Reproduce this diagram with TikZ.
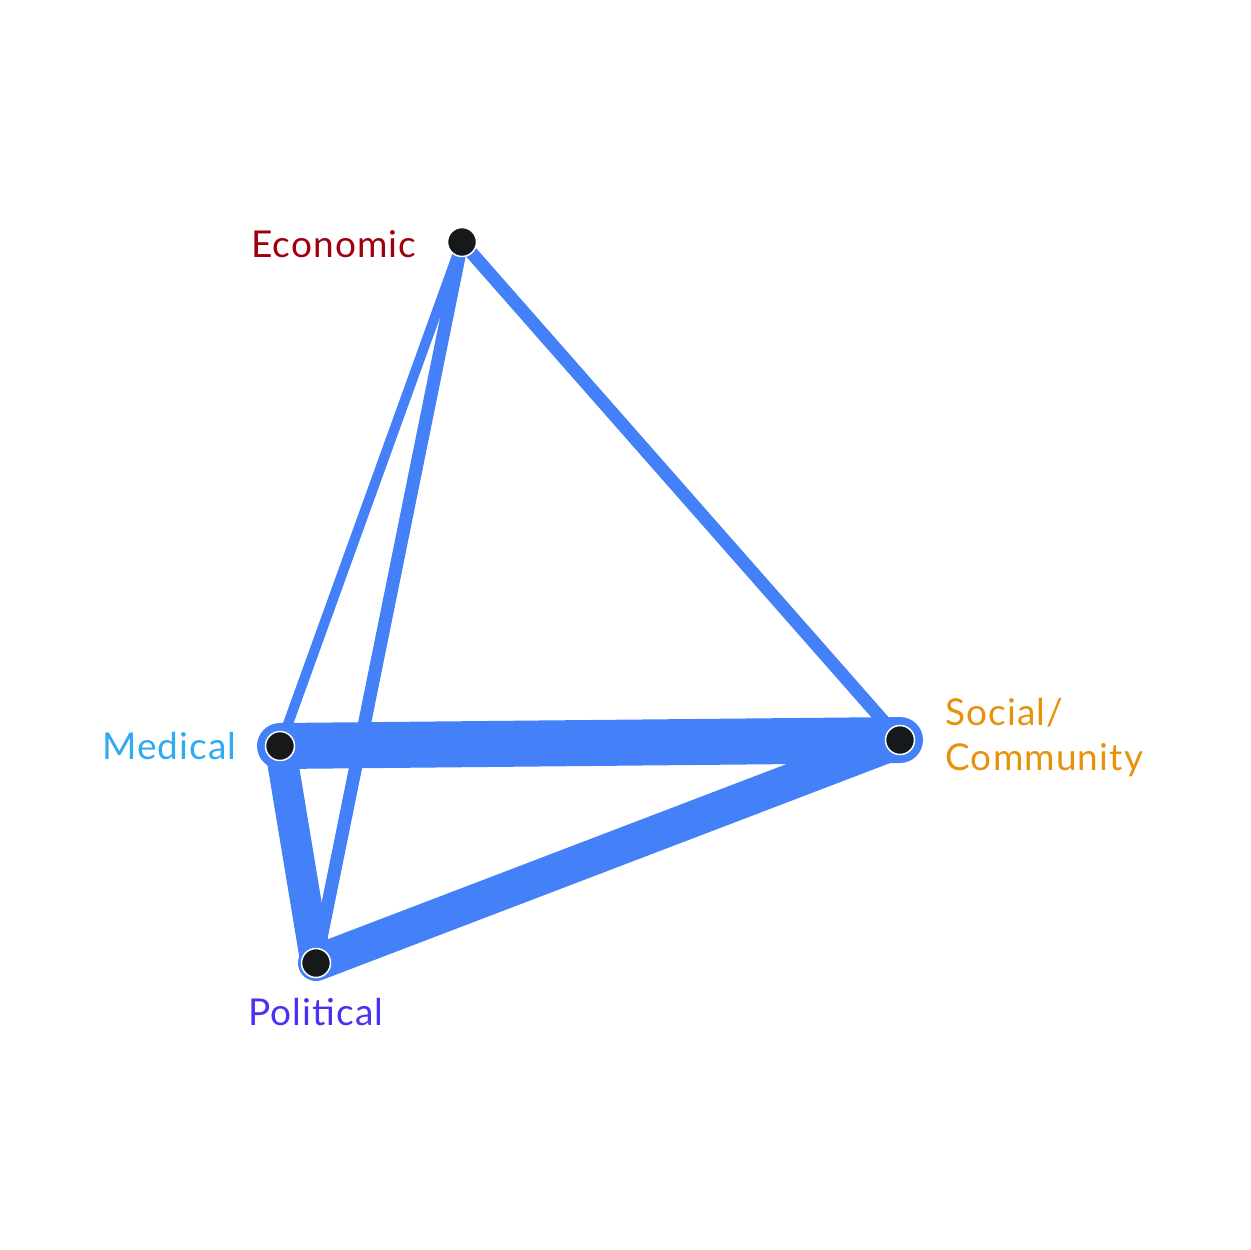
\documentclass[tikz,border=0pt]{standalone}
\usepackage{fontspec}
\setmainfont{Lato}[LetterSpace=3]
\usetikzlibrary{positioning}
\definecolor{tieblue}{HTML}{4480F8}
\definecolor{econred}{HTML}{A0000E}
\definecolor{medblue}{HTML}{30AAF0}
\definecolor{socorange}{HTML}{E8920C}
\definecolor{polviolet}{HTML}{4A32F2}
\definecolor{dotblack}{HTML}{161819}
\tikzset{
  tie/.style={draw=tieblue,line cap=round,line join=round},
  dot/.style={circle,fill=dotblack,draw=white,line width=1.5pt,minimum size=29pt,inner sep=0pt},
  lbl/.style={font=\fontsize{37}{45}\selectfont,inner sep=0pt}
}
\begin{document}
\begin{tikzpicture}[x=1pt,y=-1pt]
\useasboundingbox (0,0) rectangle (1250,1250);
\coordinate (econ) at (462,242);
\coordinate (med) at (280,746);
\coordinate (soc) at (900,740);
\coordinate (pol) at (316,963);
% links, thin ones first
\draw[tie,line width=10pt] (econ)--(med);
\draw[tie,line width=13pt] (econ)--(pol);
\draw[tie,line width=13pt] (econ)--(soc);
\draw[tie,line width=31pt] (med)--(pol);
\draw[tie,line width=36pt] (pol)--(soc);
\draw[tie,line width=46pt] (med)--(soc);
% actors
\node[dot] (econdot) at (econ) {};
\node[dot] (meddot) at (med) {};
\node[dot] (socdot) at (soc) {};
\node[dot] (poldot) at (pol) {};
\node[lbl,text=econred,left=30pt of econdot,yshift=-2pt] (econlbl) {Economic};
\node[lbl,text=medblue,left=28pt of meddot] (medlbl) {Medical};
\node[lbl,text=socorange,align=left,right=30pt of socdot,yshift=2pt] (soclbl) {Social/\\Community};
\node[lbl,text=polviolet,below=20pt of poldot] (pollbl) {Political};
\end{tikzpicture}
\end{document}
